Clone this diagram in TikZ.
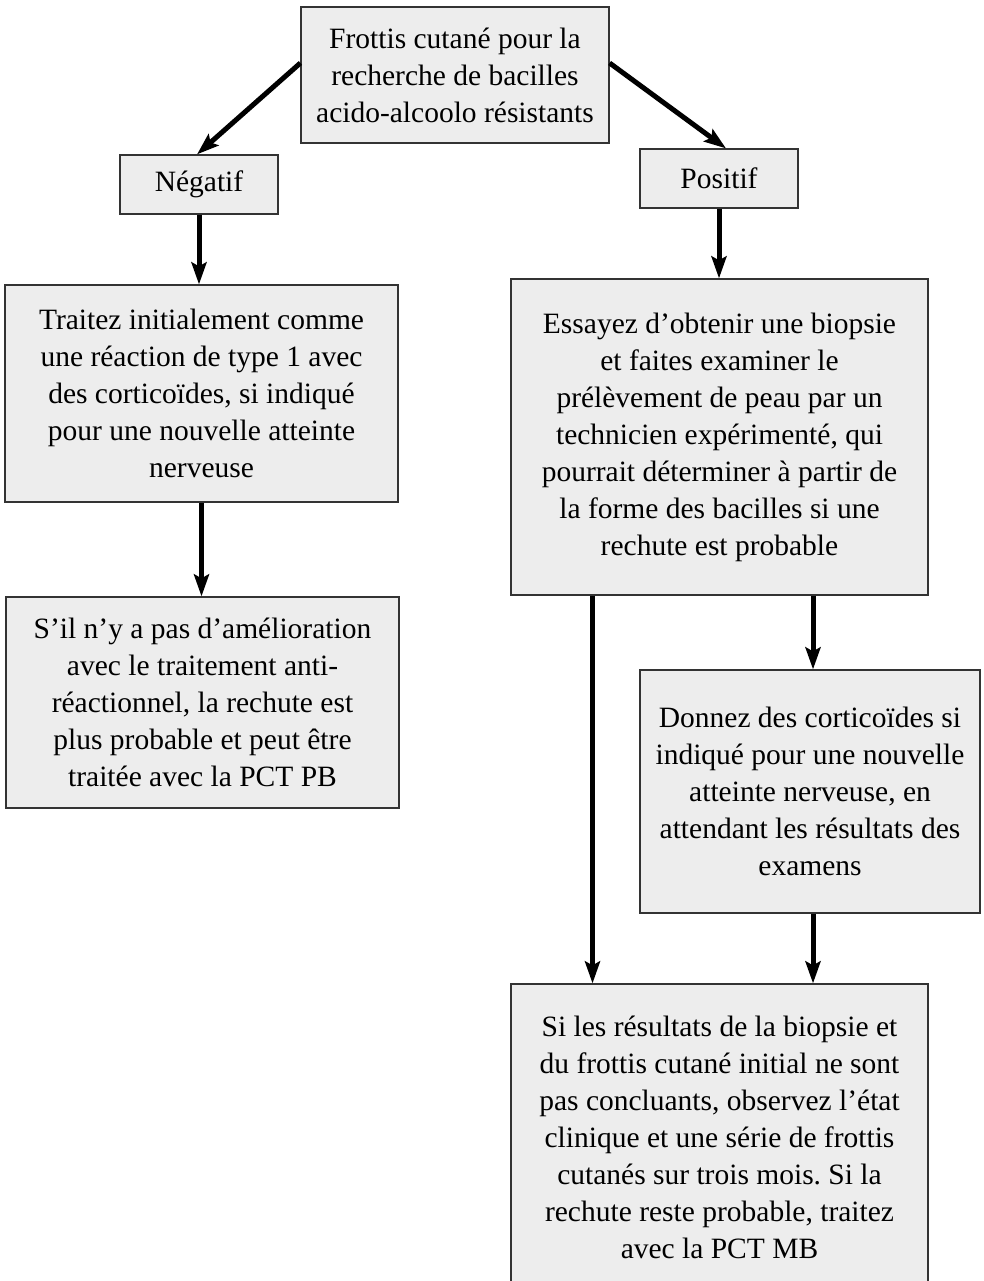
\documentclass[tikz,border=0pt]{standalone}
\usepackage{fontspec}
\setmainfont{Liberation Serif}
\usepackage{tikz}
\usetikzlibrary{arrows.meta}
\frenchspacing

\begin{document}
\begin{tikzpicture}[x=1pt,y=-1pt]
\tikzstyle{box}=[rectangle,align=center,draw=black!80,line width=1.2pt,fill=black!7,inner sep=0pt,font=\fontsize{29.5}{37}\selectfont]
\tikzstyle{arr}=[line width=5pt,-{Stealth[length=22pt,width=15pt,inset=4pt]}]
\useasboundingbox (0, 0) rectangle (984, 1281);
\fill[white] (0, 0) rectangle (984, 1281);
\node[box,minimum width=308pt,minimum height=136pt] at(455, 75) (frottis) {Frottis cutané pour la\\
                         recherche de bacilles\\
                         acido-alcoolo résistants};
\node[box,minimum width=158pt,minimum height=59pt] at(199, 184.5) (neg) {Négatif};
\node[box,minimum width=158pt,minimum height=59pt] at(719, 178.5) (pos) {Positif};
\node[box,minimum width=393pt,minimum height=217pt] at(201.5, 393.5) (traitez) {Traitez initialement comme\\
                         une réaction de type 1 avec\\
                         des corticoïdes, si indiqué\\
                         pour une nouvelle atteinte\\
                         nerveuse};
\node[box,minimum width=393pt,minimum height=211pt] at(202.5, 702.5) (amelio) {S’il n’y a pas d’amélioration\\
                         avec le traitement anti-\\
                         réactionnel, la rechute est\\
                         plus probable et peut être\\
                         traitée avec la PCT PB};
\node[box,minimum width=417pt,minimum height=316pt] at(719.5, 437) (biopsie) {Essayez d’obtenir une biopsie\\
                         et faites examiner le\\
                         prélèvement de peau par un\\
                         technicien expérimenté, qui\\
                         pourrait déterminer à partir de\\
                         la forme des bacilles si une\\
                         rechute est probable};
\node[box,minimum width=340pt,minimum height=243pt] at(810, 791.5) (cortico) {Donnez des corticoïdes si\\
                         indiqué pour une nouvelle\\
                         atteinte nerveuse, en\\
                         attendant les résultats des\\
                         examens};
\node[box,minimum width=417pt,minimum height=306pt] at(719.5, 1137) (resultats) {Si les résultats de la biopsie et\\
                         du frottis cutané initial ne sont\\
                         pas concluants, observez l’état\\
                         clinique et une série de frottis\\
                         cutanés sur trois mois. Si la\\
                         rechute reste probable, traitez\\
                         avec la PCT MB};
\draw[arr] ([yshift=12pt]frottis.west) -- ([xshift=-2pt]neg.north);
\draw[arr] ([yshift=12pt]frottis.east) -- ([xshift=7pt]pos.north);
\draw[arr] (neg.south) -- (neg.south |- traitez.north);
\draw[arr] (pos.south) -- (pos.south |- biopsie.north);
\draw[arr] (traitez.south) -- (traitez.south |- amelio.north);
\draw[arr] ([xshift=-127pt]biopsie.south) -- ([xshift=-127pt]resultats.north);
\draw[arr] (biopsie.south -| 813, 0) -- (cortico.north -| 813, 0);
\draw[arr] (cortico.south -| 813, 0) -- (resultats.north -| 813, 0);
\end{tikzpicture}
\end{document}
